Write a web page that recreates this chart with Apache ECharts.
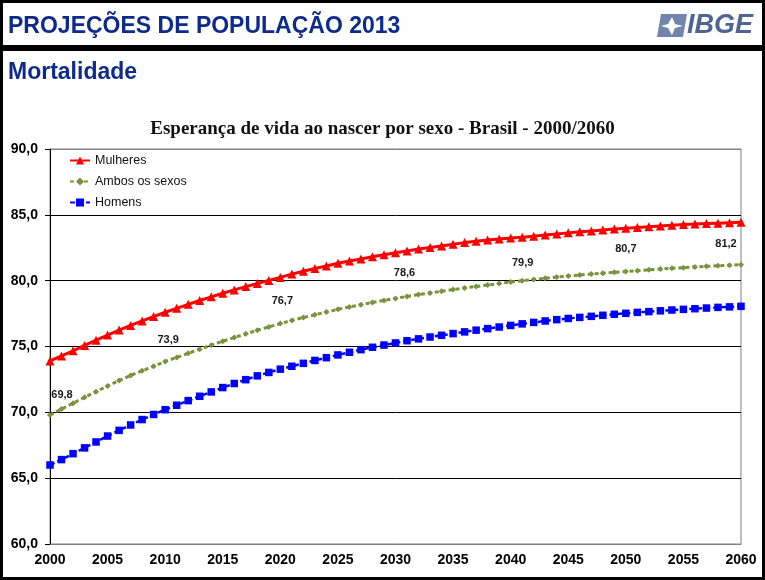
<!DOCTYPE html>
<html>
<head>
<meta charset="utf-8">
<script src="https://cdn.jsdelivr.net/npm/echarts@6/dist/echarts.min.js"></script>
<style>
html,body{margin:0;padding:0;background:#fff;}
#chart{width:765px;height:580px;}
</style>
</head>
<body>
<div id="chart"></div>
<script>
var years = ['2000','2001','2002','2003','2004','2005','2006','2007','2008','2009',
 '2010','2011','2012','2013','2014','2015','2016','2017','2018','2019',
 '2020','2021','2022','2023','2024','2025','2026','2027','2028','2029',
 '2030','2031','2032','2033','2034','2035','2036','2037','2038','2039',
 '2040','2041','2042','2043','2044','2045','2046','2047','2048','2049',
 '2050','2051','2052','2053','2054','2055','2056','2057','2058','2059','2060'];

var mulheres = [73.9,74.28,74.67,75.08,75.48,75.87,76.25,76.6,76.94,77.27,
 77.6,77.9,78.2,78.49,78.77,79.04,79.3,79.55,79.79,80.02,
 80.25,80.5,80.72,80.92,81.12,81.32,81.49,81.65,81.81,81.97,
 82.12,82.26,82.4,82.52,82.64,82.77,82.89,82.99,83.08,83.17,
 83.24,83.3,83.38,83.47,83.55,83.63,83.71,83.78,83.85,83.92,
 83.98,84.04,84.1,84.16,84.21,84.26,84.3,84.34,84.37,84.4,84.43];

var ambos = [69.8,70.25,70.69,71.14,71.57,72.0,72.41,72.8,73.16,73.5,
 73.86,74.17,74.48,74.8,75.1,75.4,75.68,75.96,76.23,76.49,
 76.74,76.98,77.2,77.41,77.62,77.82,78.0,78.18,78.35,78.5,
 78.65,78.8,78.94,79.07,79.2,79.32,79.45,79.56,79.67,79.78,
 79.9,80.0,80.09,80.18,80.27,80.35,80.43,80.5,80.57,80.64,
 80.7,80.76,80.82,80.88,80.94,80.99,81.04,81.09,81.13,81.17,81.21];

var homens = [66.0,66.41,66.86,67.3,67.75,68.2,68.63,69.04,69.45,69.84,
 70.2,70.54,70.89,71.22,71.55,71.88,72.19,72.48,72.77,73.03,
 73.28,73.5,73.72,73.94,74.15,74.36,74.56,74.76,74.94,75.11,
 75.27,75.44,75.58,75.72,75.85,75.98,76.11,76.24,76.36,76.48,
 76.6,76.72,76.83,76.94,77.04,77.13,77.21,77.29,77.37,77.45,
 77.52,77.59,77.65,77.71,77.77,77.82,77.87,77.92,77.97,78.01,78.05];

var labelYears = ['2000','2010','2020','2030','2040','2050','2060'];
var labelTexts = ['69,8','73,9','76,7','78,6','79,9','80,7','81,2'];

var seriesNames = ['Mulheres','Ambos os sexos','Homens'];
var titleText = 'Esperança de vida ao nascer por sexo - Brasil - 2000/2060';

// label offsets (style only)
var labelOffsets = {
  '2000':[12,-20], '2010':[3,-22], '2020':[2,-23], '2030':[9,-25],
  '2040':[12,-19], '2050':[0,-22], '2060':[-15,-21]
};

var ambosData = ambos.map(function(v,i){
  var y = years[i];
  var k = labelYears.indexOf(y);
  if (k >= 0) {
    return {value:v, label:{show:true, position:'inside', offset:labelOffsets[y],
      formatter: labelTexts[k], color:'#1a1a1a', fontSize:11, fontWeight:'bold',
      fontFamily:'Liberation Sans, Arial, sans-serif'}};
  }
  return v;
});

var chart = echarts.init(document.getElementById('chart'), null, {renderer:'canvas'});
var fontSans = 'Liberation Sans, Arial, sans-serif';
chart.setOption({
  backgroundColor:'#ffffff',
  animation:false,
  title:{
    text:titleText, left:'center', top:115,
    textStyle:{fontFamily:'Liberation Serif, Times New Roman, serif', fontWeight:'bold', fontSize:19, color:'#111'}
  },
  legend:{
    left:69, top:154, padding:0, orient:'vertical', itemWidth:20, itemHeight:10, itemGap:8,
    textStyle:{fontFamily:fontSans, fontSize:12.5, color:'#111'},
    data:seriesNames
  },
  grid:{left:50, right:24, top:149, bottom:36, show:true, borderColor:'#808080', borderWidth:1},
  xAxis:{
    type:'category', data:years, boundaryGap:false,
    axisLine:{show:true, lineStyle:{color:'#808080', width:1}},
    axisTick:{show:false},
    axisLabel:{interval:4, color:'#000', fontFamily:fontSans, fontWeight:'bold', fontSize:14, margin:9}
  },
  yAxis:{
    type:'value', min:60, max:90, interval:5,
    axisLine:{show:true, lineStyle:{color:'#000', width:1}},
    axisTick:{show:true, length:5, lineStyle:{color:'#000'}},
    splitLine:{show:true, lineStyle:{color:['#808080','#000','#000','#000','#000','#000','#808080'], width:1}},
    axisLabel:{color:'#000', fontFamily:fontSans, fontWeight:'bold', fontSize:14, margin:12,
      formatter:function(v){return v.toFixed(1).replace('.',',');}}
  },
  series:[
    {name:seriesNames[0], type:'line', data:mulheres, showAllSymbol:true,
     symbol:'triangle', symbolSize:9, color:'#ff0000',
     lineStyle:{color:'#ff0000', width:3}, itemStyle:{color:'#ff0000'}, z:3},
    {name:seriesNames[1], type:'line', data:ambosData, showAllSymbol:true,
     symbol:'diamond', symbolSize:6, color:'#77933c',
     lineStyle:{color:'#77933c', width:3, type:[4,3]}, itemStyle:{color:'#77933c'}, z:2},
    {name:seriesNames[2], type:'line', data:homens, showAllSymbol:true,
     symbol:'rect', symbolSize:7.5, color:'#0000ff',
     lineStyle:{color:'#0000ff', width:2.5, type:[5,3]}, itemStyle:{color:'#0000ff'}, z:2}
  ],
  graphic:[
    {type:'rect', shape:{x:1.5, y:1.5, width:762, height:577}, style:{fill:'none', stroke:'#000', lineWidth:3}, z:100},
    {type:'rect', shape:{x:0, y:45, width:765, height:6}, style:{fill:'#000'}, z:100},
    {type:'text', left:8, top:15, style:{text:'PROJEÇÕES DE POPULAÇÃO 2013', fill:'#0d2b8c',
      font:'bold 23px Liberation Sans, Arial, sans-serif'}, z:100},
    {type:'text', left:8, top:61, style:{text:'Mortalidade', fill:'#0d2b8c',
      font:'bold 23px Liberation Sans, Arial, sans-serif'}, z:100},
    {type:'polygon', shape:{points:[[661,14],[687,14],[683,37],[657,37]]}, style:{fill:'#7185ad'}, z:100},
    {type:'polygon', shape:{points:[[672,17],[675,24],[683,26],[675,28],[672,35],[668,28],[661,26],[668,24]]}, style:{fill:'#ffffff'}, z:101},
    {type:'text', left:687, top:12, style:{text:'IBGE', fill:'#4f6593',
      font:'italic bold 27px Liberation Sans, Arial, sans-serif'}, z:100}
  ]
});
</script>
</body>
</html>
